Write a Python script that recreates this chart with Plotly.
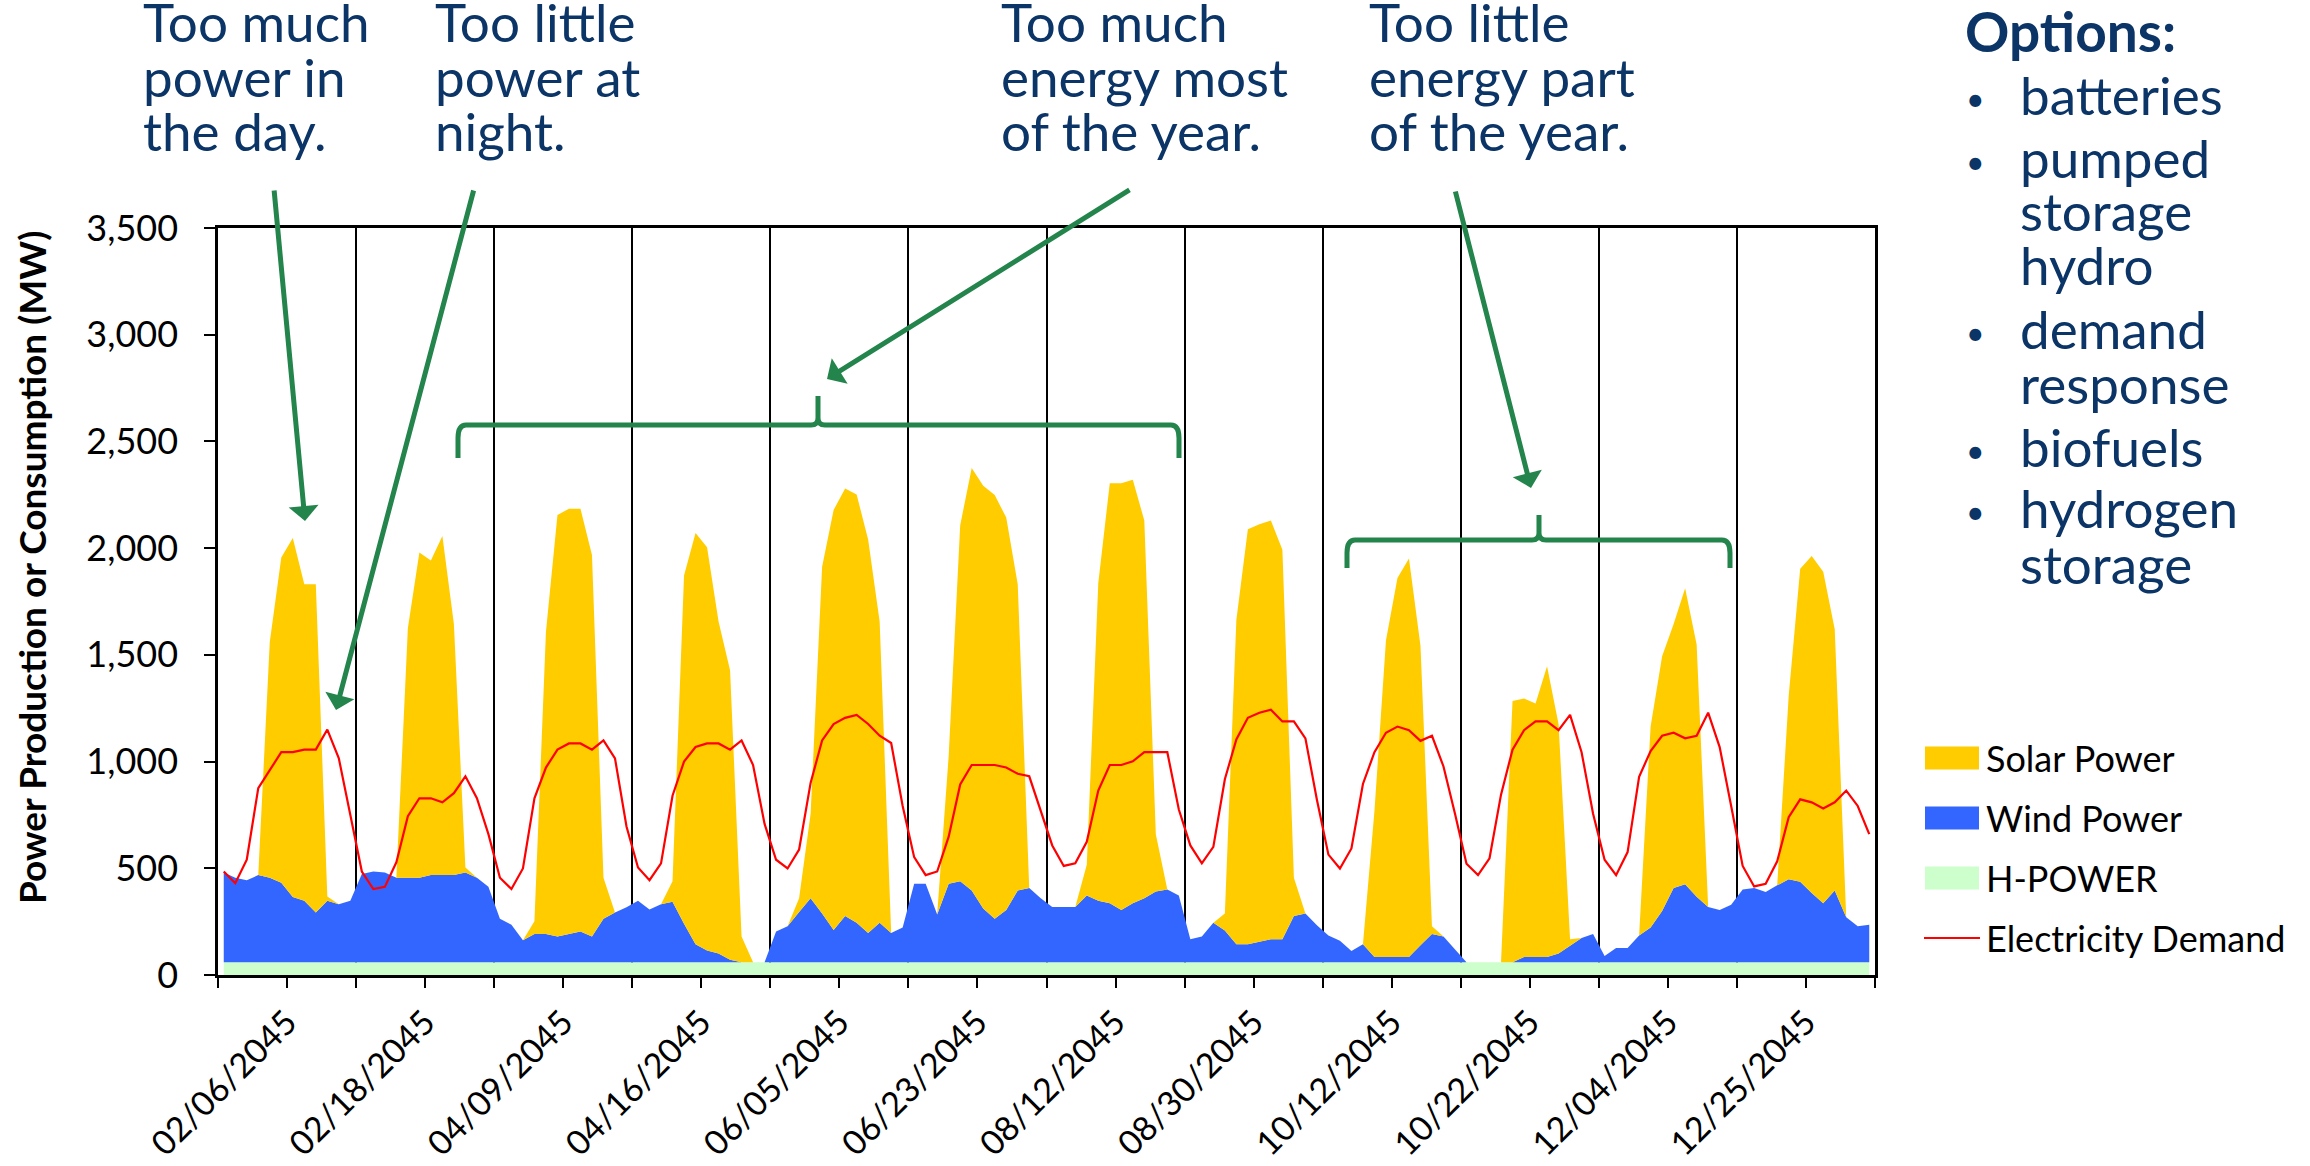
import plotly.graph_objects as go

# ---------------- data ----------------
day_labels = ["02/06/2045", "02/18/2045", "04/09/2045", "04/16/2045", "06/05/2045", "06/23/2045",
              "08/12/2045", "08/30/2045", "10/12/2045", "10/22/2045", "12/04/2045", "12/25/2045"]
hours = [0, 2, 4, 6, 8, 10, 12, 14, 16, 18, 20, 22]

h_power = [
    [60, 60, 60, 60, 60, 60, 60, 60, 60, 60, 60, 60],
    [60, 60, 60, 60, 60, 60, 60, 60, 60, 60, 60, 60],
    [60, 60, 60, 60, 60, 60, 60, 60, 60, 60, 60, 60],
    [60, 60, 60, 60, 60, 60, 60, 60, 60, 60, 60, 60],
    [60, 60, 60, 60, 60, 60, 60, 60, 60, 60, 60, 60],
    [60, 60, 60, 60, 60, 60, 60, 60, 60, 60, 60, 60],
    [60, 60, 60, 60, 60, 60, 60, 60, 60, 60, 60, 60],
    [60, 60, 60, 60, 60, 60, 60, 60, 60, 60, 60, 60],
    [60, 60, 60, 60, 60, 60, 60, 60, 60, 60, 60, 60],
    [60, 60, 60, 60, 60, 60, 60, 60, 60, 60, 60, 60],
    [60, 60, 60, 60, 60, 60, 60, 60, 60, 60, 60, 60],
    [60, 60, 60, 60, 60, 60, 60, 60, 60, 60, 60, 60],
]

wind_power = [
    [420, 396, 384, 408, 396, 372, 305, 288, 233, 288, 271, 288],
    [413, 425, 420, 396, 396, 396, 408, 408, 408, 420, 396, 353],
    [204, 175, 103, 132, 132, 120, 132, 144, 120, 204, 233, 257],
    [288, 247, 271, 283, 180, 84, 55, 41, 12, 0, 0, 0],
    [144, 168, 235, 300, 228, 151, 216, 185, 137, 185, 137, 163],
    [367, 367, 223, 367, 379, 336, 252, 204, 245, 336, 348, 300],
    [259, 259, 259, 312, 288, 276, 245, 276, 300, 331, 341, 312],
    [108, 120, 185, 149, 84, 84, 96, 108, 108, 216, 228, 173],
    [125, 101, 53, 84, 24, 24, 24, 24, 79, 132, 120, 60],
    [0, 0, 0, 0, 0, 24, 24, 24, 41, 77, 113, 132],
    [29, 67, 67, 125, 163, 240, 348, 365, 307, 259, 245, 269],
    [341, 348, 329, 360, 389, 377, 324, 276, 336, 211, 168, 175],
]

solar_power = [
    [0, 0, 0, 0, 1104, 1524, 1682, 1483, 1538, 20, 0, 0],
    [0, 0, 0, 0, 1169, 1524, 1474, 1589, 1176, 24, 0, 0],
    [0, 0, 0, 60, 1416, 1975, 1992, 1980, 1788, 192, 0, 0],
    [0, 0, 0, 96, 1632, 1927, 1889, 1555, 1356, 120, 0, 0],
    [0, 0, 65, 396, 1625, 1968, 2004, 2006, 1843, 1411, 0, 0],
    [0, 0, 0, 600, 1668, 1980, 1980, 1985, 1838, 1435, 0, 0],
    [0, 0, 0, 144, 1488, 1968, 1999, 1985, 1769, 269, 0, 0],
    [0, 0, 0, 79, 1519, 1944, 1956, 1961, 1824, 180, 0, 0],
    [0, 0, 0, 0, 684, 1483, 1776, 1867, 1404, 36, 0, 0],
    [0, 0, 0, 0, 1224, 1212, 1188, 1363, 1075, 31, 0, 0],
    [0, 0, 0, 0, 941, 1193, 1236, 1387, 1181, 0, 0, 0],
    [0, 0, 0, 0, 859, 1466, 1579, 1553, 1224, 0, 0, 0],
]

electricity_demand = [
    [485, 430, 540, 876, 960, 1044, 1044, 1056, 1056, 1150, 1015, 756],
    [485, 403, 413, 528, 744, 828, 828, 809, 852, 931, 828, 660],
    [456, 403, 499, 828, 972, 1056, 1085, 1085, 1056, 1099, 1015, 696],
    [504, 444, 523, 840, 1000, 1068, 1085, 1085, 1056, 1099, 984, 708],
    [540, 499, 588, 900, 1099, 1176, 1205, 1219, 1176, 1121, 1087, 792],
    [552, 468, 485, 648, 893, 984, 984, 984, 972, 943, 931, 768],
    [607, 511, 523, 624, 864, 984, 984, 1001, 1044, 1044, 1044, 775],
    [607, 523, 600, 917, 1104, 1205, 1229, 1243, 1188, 1188, 1109, 821],
    [564, 499, 593, 895, 1044, 1135, 1164, 1147, 1097, 1121, 977, 756],
    [521, 468, 547, 845, 1056, 1147, 1188, 1188, 1147, 1219, 1044, 756],
    [540, 468, 576, 929, 1049, 1121, 1135, 1109, 1121, 1229, 1068, 792],
    [511, 415, 427, 533, 739, 823, 809, 780, 809, 864, 792, 660],
]

y_ticks = [0, 500, 1000, 1500, 2000, 2500, 3000, 3500]

# ---------------- styling ----------------
FONT = "Lato"
NAVY = "#0b3467"
GREEN = "#23844c"
C_SOLAR = "#FFCC00"
C_WIND = "#3366FF"
C_HPOWER = "#CCFFCC"
C_DEMAND = "#FF0000"

FIG_W, FIG_H = 2310, 1166
L, R, T, B = 218, 1875, 228, 975
W, H = R - L, B - T


def px(X):
    return (X - L) / W


def py(Y):
    return (B - Y) / H


n_per_day = len(hours)
x = [d * n_per_day + k + 0.5 for d in range(len(day_labels)) for k in range(n_per_day)]


def flat(rows):
    return [v for row in rows for v in row]


fig = go.Figure()
fig.add_trace(go.Scatter(x=x, y=flat(h_power), name="H-POWER", stackgroup="s", mode="lines",
                         line=dict(width=0, color=C_HPOWER), fillcolor=C_HPOWER, showlegend=False))
fig.add_trace(go.Scatter(x=x, y=flat(wind_power), name="Wind Power", stackgroup="s", mode="lines",
                         line=dict(width=0, color=C_WIND), fillcolor=C_WIND, showlegend=False))
fig.add_trace(go.Scatter(x=x, y=flat(solar_power), name="Solar Power", stackgroup="s", mode="lines",
                         line=dict(width=0, color=C_SOLAR), fillcolor=C_SOLAR, showlegend=False))
fig.add_trace(go.Scatter(x=x, y=flat(electricity_demand), name="Electricity Demand", mode="lines",
                         line=dict(width=2.2, color=C_DEMAND), showlegend=False))

n_days = len(day_labels)
fig.update_xaxes(
    range=[0, n_days * n_per_day],
    automargin=False,
    tickmode="array",
    tickvals=[d * n_per_day + n_per_day / 2 for d in range(n_days)],
    ticktext=day_labels,
    tickangle=-45,
    ticks="outside", ticklen=10, tickwidth=2, tickcolor="black",
    showgrid=False,
    showline=True, linecolor="black", linewidth=2.5, mirror=True,
    tickfont=dict(family=FONT, size=34, color="black"),
    ticklabelstandoff=1,
    minor=dict(tickmode="array", tickvals=[d * n_per_day for d in range(n_days + 1)],
               ticks="outside", ticklen=10, tickwidth=2, tickcolor="black",
               showgrid=True, gridcolor="black", gridwidth=2),
    zeroline=False,
)
fig.update_yaxes(
    range=[0, 3500],
    automargin=False,
    tickmode="array", tickvals=y_ticks, tickformat=",d",
    ticks="outside", ticklen=11, tickwidth=2, tickcolor="black",
    showgrid=False, zeroline=False,
    showline=True, linecolor="black", linewidth=2.5, mirror=True,
    tickfont=dict(family=FONT, size=36, color="black"),
    ticklabelstandoff=19,
)

annotations = []
shapes = []

# y axis title
annotations.append(dict(text="<b>Power Production or Consumption (MW)</b>", x=px(31), y=py(568),
                        xref="paper", yref="paper", showarrow=False, textangle=-90,
                        xanchor="center", yanchor="middle",
                        font=dict(family=FONT, size=37, color="black")))

# headline texts
FS = 53
baselines = [42, 97, 151]
headlines = [
    (141, ["Too much", "power in", "the day."]),
    (433, ["Too little", "power at", "night."]),
    (999, ["Too much", "energy most", "of the year."]),
    (1367, ["Too little", "energy part", "of the year."]),
]
for X, lines in headlines:
    for line, bl in zip(lines, baselines):
        annotations.append(dict(text=line, x=px(X), y=py(bl - 0.387 * FS), xref="paper", yref="paper",
                                showarrow=False, xanchor="left", yanchor="middle",
                                font=dict(family=FONT, size=FS, color=NAVY)))

# options list
annotations.append(dict(text="<b>Options:</b>", x=px(1963), y=py(52 - 0.387 * 55), xref="paper", yref="paper",
                        showarrow=False, xanchor="left", yanchor="middle",
                        font=dict(family=FONT, size=55, color=NAVY)))
option_lines = [("batteries", 115, True), ("pumped", 178, True), ("storage", 231, False),
                ("hydro", 285, False), ("demand", 349, True), ("response", 404, False),
                ("biofuels", 467, True), ("hydrogen", 528, True), ("storage", 584, False)]
for txt, bl, bullet in option_lines:
    annotations.append(dict(text=txt, x=px(2018), y=py(bl - 0.387 * FS), xref="paper", yref="paper",
                            showarrow=False, xanchor="left", yanchor="middle",
                            font=dict(family=FONT, size=FS, color=NAVY)))
    if bullet:
        annotations.append(dict(text="•", x=px(1975), y=py(bl - 17), xref="paper", yref="paper",
                                showarrow=False, xanchor="center", yanchor="middle",
                                font=dict(family=FONT, size=32, color=NAVY)))

# arrows (tip, tail) in pixels
arrows = [((305, 521), (274, 189)), ((336, 710), (474, 189)),
          ((827, 379), (1131, 189)), ((1531, 488), (1455, 190))]
for (tx, ty), (sx, sy) in arrows:
    annotations.append(dict(text="", x=px(tx), y=py(ty), xref="paper", yref="paper",
                            showarrow=True, axref="pixel", ayref="pixel", ax=sx - tx, ay=sy - ty,
                            arrowhead=1, arrowsize=1.0, arrowwidth=5, arrowcolor=GREEN, standoff=0))


# braces
def brace(x1, x2, xc, yl, ye, yt, rx, ry, rc):
    def P(X, Y):
        return f"{px(X):.5f},{py(Y):.5f}"
    d = (f"M{P(x1, ye)} L{P(x1, yl + ry)} Q{P(x1, yl)} {P(x1 + rx, yl)} L{P(xc - rc, yl)} "
         f"Q{P(xc, yl)} {P(xc, yl - rc)} L{P(xc, yt)} L{P(xc, yl - rc)} Q{P(xc, yl)} {P(xc + rc, yl)} "
         f"L{P(x2 - rx, yl)} Q{P(x2, yl)} {P(x2, yl + ry)} L{P(x2, ye)}")
    return dict(type="path", path=d, xref="paper", yref="paper",
                line=dict(color=GREEN, width=5))


shapes.append(brace(458, 1179, 818, 425, 458, 396, 8, 13, 7))
shapes.append(brace(1347, 1730, 1539, 540, 568, 515, 8, 13, 7))

# custom legend
legend_items = [("Solar Power", C_SOLAR, 758, "box"), ("Wind Power", C_WIND, 818, "box"),
                ("H-POWER", C_HPOWER, 878, "box"), ("Electricity Demand", C_DEMAND, 938, "line")]
LFS = 36
for name, col, yc, kind in legend_items:
    if kind == "box":
        shapes.append(dict(type="rect", xref="paper", yref="paper", x0=px(1925), x1=px(1979),
                           y0=py(yc - 11.5), y1=py(yc + 11.5), fillcolor=col, line=dict(width=0)))
    else:
        shapes.append(dict(type="line", xref="paper", yref="paper", x0=px(1924), x1=px(1980),
                           y0=py(yc), y1=py(yc), line=dict(color=col, width=2.2)))
    annotations.append(dict(text=name, x=px(1984), y=py(yc + 14 - 0.387 * LFS), xref="paper", yref="paper",
                            showarrow=False, xanchor="left", yanchor="middle",
                            font=dict(family=FONT, size=LFS, color="black")))

fig.update_layout(
    width=FIG_W, height=FIG_H, autosize=False,
    margin=dict(l=L, r=FIG_W - R, t=T, b=FIG_H - B, autoexpand=False),
    paper_bgcolor="white", plot_bgcolor="white",
    font=dict(family=FONT, color="black"),
    showlegend=False,
    annotations=annotations, shapes=shapes,
)

fig.write_html("out.html", config={"displayModeBar": False},
               post_script="document.body.style.margin='0';document.body.style.overflow='hidden';")
